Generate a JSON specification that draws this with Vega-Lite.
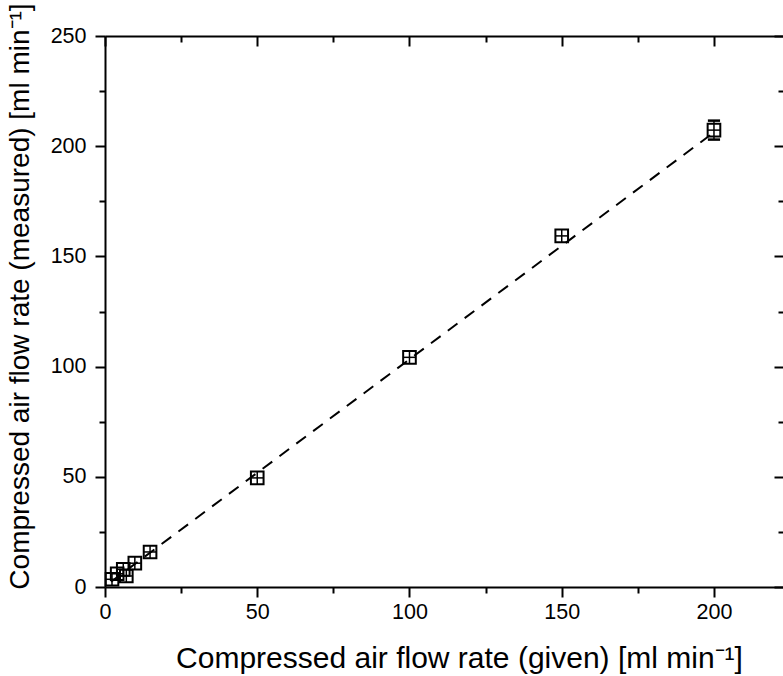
{
  "$schema": "https://vega.github.io/schema/vega-lite/v6.json",
  "width": 679,
  "height": 551,
  "autosize": {"type": "none"},
  "padding": {"left": 105, "top": 36, "right": 0, "bottom": 89},
  "background": "white",
  "config": {
    "view": {"stroke": null},
    "font": "Liberation Sans",
    "axis": {
      "domainColor": "black", "domainWidth": 2, "tickColor": "black", "tickWidth": 2,
      "labelColor": "black", "titleColor": "black", "labelFont": "Liberation Sans",
      "titleFont": "Liberation Sans", "labelFontSize": 21.5, "titleFontSize": 28,
      "titleFontWeight": "normal", "grid": false, "labelFlush": false, "labelOverlap": false
    }
  },
  "datasets": {
    "pts": [
      {"x": 2.3, "y": 3.5, "xlo": 0.3, "xhi": 4.3, "ylo": 0.5, "yhi": 6.5},
      {"x": 4, "y": 6, "xlo": 2, "xhi": 6, "ylo": 3, "yhi": 9},
      {"x": 7, "y": 5, "xlo": 5, "xhi": 9, "ylo": 2, "yhi": 8},
      {"x": 6, "y": 8, "xlo": 4, "xhi": 8, "ylo": 5, "yhi": 11},
      {"x": 9.8, "y": 10.8, "xlo": 7.8, "xhi": 11.8, "ylo": 7.8, "yhi": 13.8},
      {"x": 14.8, "y": 15.9, "xlo": 12.8, "xhi": 16.8, "ylo": 12.9, "yhi": 18.9},
      {"x": 50, "y": 49.5, "xlo": 48, "xhi": 52, "ylo": 46.5, "yhi": 52.5},
      {"x": 100, "y": 104.2, "xlo": 98, "xhi": 102, "ylo": 101.2, "yhi": 107.2},
      {"x": 150, "y": 159.3, "xlo": 148, "xhi": 152, "ylo": 156.3, "yhi": 162.3},
      {"x": 200, "y": 207.3, "xlo": 198, "xhi": 202, "ylo": 203, "yhi": 211.6}
    ],
    "fit": [
      {"x": 2, "y": 2.4},
      {"x": 200, "y": 206.3}
    ]
  },
  "resolve": {"axis": {"x": "independent", "y": "independent"}},
  "layer": [
    {
      "data": {"name": "fit"},
      "mark": {"type": "line", "color": "black", "strokeWidth": 2, "strokeDash": [12, 9]},
      "encoding": {
        "x": {"field": "x", "type": "quantitative",
          "scale": {"domain": [0, 223], "nice": false, "zero": false},
          "axis": {"orient": "bottom", "values": [0, 50, 100, 150, 200], "tickSize": 10, "labelPadding": 4,
            "title": "Compressed air flow rate (given) [ml min⁻¹]", "titleFontSize": 30, "titleX": 354, "titleY": 80, "titleBaseline": "alphabetic"}},
        "y": {"field": "y", "type": "quantitative",
          "scale": {"domain": [0, 250], "nice": false, "zero": false},
          "axis": {"orient": "left", "values": [0, 50, 100, 150, 200, 250], "tickSize": 10, "labelPadding": 9,
            "title": "Compressed air flow rate (measured) [ml min⁻¹]", "titleX": -77, "titleY": 260, "titleBaseline": "alphabetic"}}
      }
    },
    {
      "data": {"name": "pts"},
      "mark": {"type": "rule", "color": "black", "strokeWidth": 1.5},
      "encoding": {
        "x": {"field": "xlo", "type": "quantitative",
          "scale": {"domain": [0, 223], "nice": false, "zero": false},
          "axis": {"orient": "bottom", "values": [25, 75, 125, 175], "tickSize": 6, "labels": false, "domain": false, "title": null}},
        "x2": {"field": "xhi"},
        "y": {"field": "y", "type": "quantitative",
          "scale": {"domain": [0, 250], "nice": false, "zero": false},
          "axis": {"orient": "left", "values": [25, 75, 125, 175, 225], "tickSize": 6, "labels": false, "domain": false, "title": null}}
      }
    },
    {
      "data": {"name": "pts"},
      "mark": {"type": "rule", "color": "black", "strokeWidth": 1.5},
      "encoding": {
        "x": {"field": "x", "type": "quantitative",
          "scale": {"domain": [0, 223], "nice": false, "zero": false},
          "axis": {"orient": "top", "values": [0, 50, 100, 150, 200], "tickSize": -10, "labels": false, "title": null}},
        "y": {"field": "ylo", "type": "quantitative",
          "scale": {"domain": [0, 250], "nice": false, "zero": false},
          "axis": {"orient": "right", "values": [0, 50, 100, 150, 200, 250], "tickSize": -10, "labels": false, "title": null}},
        "y2": {"field": "yhi"}
      }
    },
    {
      "data": {"name": "pts"},
      "mark": {"type": "point", "shape": "square", "filled": false, "color": "black", "strokeWidth": 2, "size": 160, "opacity": 1},
      "encoding": {
        "x": {"field": "x", "type": "quantitative",
          "scale": {"domain": [0, 223], "nice": false, "zero": false},
          "axis": {"orient": "top", "values": [25, 75, 125, 175], "tickSize": -6, "labels": false, "domain": false, "title": null}},
        "y": {"field": "y", "type": "quantitative",
          "scale": {"domain": [0, 250], "nice": false, "zero": false},
          "axis": {"orient": "right", "values": [25, 75, 125, 175, 225], "tickSize": -6, "labels": false, "domain": false, "title": null}}
      }
    },
    {
      "data": {"name": "pts"},
      "transform": [{"filter": "datum.x == 200"}],
      "mark": {"type": "rule", "color": "black", "strokeWidth": 2.5},
      "encoding": {
        "x": {"field": "xlo", "type": "quantitative", "scale": {"domain": [0, 223], "nice": false, "zero": false}, "axis": null},
        "x2": {"field": "xhi"},
        "y": {"field": "yhi", "type": "quantitative", "scale": {"domain": [0, 250], "nice": false, "zero": false}, "axis": null}
      }
    },
    {
      "data": {"name": "pts"},
      "transform": [{"filter": "datum.x == 200"}],
      "mark": {"type": "rule", "color": "black", "strokeWidth": 2.5},
      "encoding": {
        "x": {"field": "xlo", "type": "quantitative", "scale": {"domain": [0, 223], "nice": false, "zero": false}, "axis": null},
        "x2": {"field": "xhi"},
        "y": {"field": "ylo", "type": "quantitative", "scale": {"domain": [0, 250], "nice": false, "zero": false}, "axis": null}
      }
    }
  ]
}
